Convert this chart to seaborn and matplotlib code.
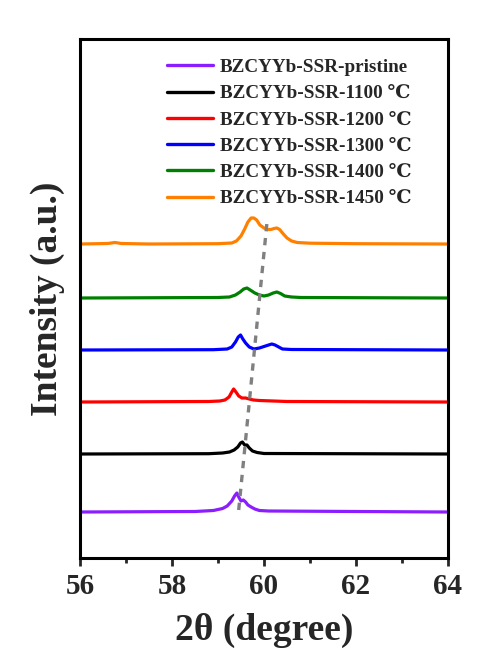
import numpy as np
import pandas as pd
import matplotlib
matplotlib.use("Agg")
import matplotlib.pyplot as plt
import seaborn as sns

# ---- data (intensity above each trace's baseline) ----
labels = ["BZCYYb-SSR-pristine", "BZCYYb-SSR-1100 \u2103", "BZCYYb-SSR-1200 \u2103",
          "BZCYYb-SSR-1300 \u2103", "BZCYYb-SSR-1400 \u2103", "BZCYYb-SSR-1450 \u2103"]
colors = ["#8B1EFF", "#000000", "#FF0000", "#0000FF", "#008000", "#FF8000"]
offsets = [46, 104, 156, 208, 260, 314]

x_pristine = [56, 58.5, 58.9, 59.1, 59.2, 59.3, 59.36, 59.41, 59.45, 59.5, 59.55, 59.6, 59.65, 59.72, 59.8, 59.9, 60.1, 62, 64]
y_pristine = [0, 0.5, 1.5, 3.5, 6, 11, 16, 19, 15, 11, 12, 10, 7, 5, 3, 1.5, 1, 0.5, 0]

x_1100 = [56, 58.8, 59.1, 59.25, 59.35, 59.43, 59.49, 59.53, 59.58, 59.63, 59.68, 59.75, 59.85, 60.0, 64]
y_1100 = [0, 0.3, 1, 2, 4, 7, 11, 12, 9, 9, 6, 3, 1.5, 0.5, 0]

x_1200 = [56, 58.8, 59.04, 59.15, 59.24, 59.3, 59.34, 59.39, 59.45, 59.52, 59.6, 59.68, 59.77, 59.9, 60.2, 60.5, 64]
y_1200 = [0, 0.5, 1, 2, 5, 10, 13, 10, 6, 4, 4, 3, 2, 1.5, 1, 0.5, 0]

x_1300 = [56, 58.9, 59.2, 59.3, 59.38, 59.44, 59.49, 59.54, 59.6, 59.68, 59.78, 59.9, 60.0, 60.1, 60.17, 60.24, 60.32, 60.4, 60.6, 64]
y_1300 = [0, 0.3, 1, 3, 8, 13, 15, 11, 7, 3, 1, 2, 3.5, 5, 6, 5, 3, 1, 0.5, 0]

x_1400 = [56, 59.0, 59.25, 59.38, 59.48, 59.56, 59.63, 59.7, 59.8, 59.9, 60.0, 60.1, 60.2, 60.28, 60.36, 60.45, 60.6, 60.8, 64]
y_1400 = [0, 0.5, 1, 3, 6, 9, 10, 8, 5, 3, 2, 3, 5, 6, 4.5, 2, 1, 0.5, 0]

x_1450 = [56, 56.6, 56.76, 56.9, 57.5, 59.0, 59.3, 59.4, 59.5, 59.58, 59.65, 59.72, 59.78, 59.84, 59.91, 60.0,
          60.08, 60.15, 60.22, 60.28, 60.34, 60.42, 60.5, 60.6, 60.72, 61, 62, 64]
y_1450 = [0, 0.5, 1.5, 0.5, 0, 0.3, 1, 3, 8, 15, 22, 26, 26, 24, 19, 16,
          14.5, 14.5, 15.5, 16, 14.5, 10, 6, 3, 1.5, 0.8, 0.3, 0]

guide_x = [59.45, 60.07]
guide_y = [48, 338]

xticks = [56, 58, 60, 62, 64]

series_x = [x_pristine, x_1100, x_1200, x_1300, x_1400, x_1450]
series_y = [y_pristine, y_1100, y_1200, y_1300, y_1400, y_1450]

rows = []
for lab, xs, ys, off in zip(labels, series_x, series_y, offsets):
    for i, (xv, yv) in enumerate(zip(xs, ys)):
        rows.append({"x": xv, "y": yv + off, "sample": lab, "order": i})
df = pd.DataFrame(rows)

# ---- figure ----
sns.set_theme(style="ticks")
serif = ["Liberation Serif", "DejaVu Serif", "DejaVu Sans"]
plt.rcParams["font.family"] = serif
plt.rcParams["font.weight"] = "bold"

fig = plt.figure(figsize=(4.79, 6.61), dpi=100)
ax = fig.add_axes([80 / 479, 1 - 558 / 661, 368 / 479, 519 / 661])

sns.lineplot(data=df, x="x", y="y", hue="sample", hue_order=labels,
             palette=dict(zip(labels, colors)), sort=False, estimator=None,
             linewidth=2.3, ax=ax)

ax.plot(guide_x, guide_y, color="#808080", linestyle=(0, (2.2, 2.0)), linewidth=2.4, zorder=5)

ax.set_xlim(56, 64)
ax.set_ylim(0, 519)
ax.set_xticks(xticks)
ax.set_xticks([57, 59, 61, 63], minor=True)
ax.set_yticks([])
ax.tick_params(axis="x", which="major", direction="out", length=6, width=2, pad=5,
               labelsize=21)
ax.tick_params(axis="x", which="minor", direction="out", length=3.5, width=2)
for lbl in ax.get_xticklabels():
    lbl.set_fontweight("bold")
for sp in ax.spines.values():
    sp.set_linewidth(2.2)
    sp.set_color("black")

ax.set_xlabel("2\u03b8 (degree)", fontsize=27, fontweight="bold", labelpad=9)
ax.set_ylabel("Intensity (a.u.)", fontsize=27, fontweight="bold", labelpad=11)

handles, _ = ax.get_legend_handles_labels()
leg = ax.legend(handles=handles, labels=labels, loc="upper left",
                bbox_to_anchor=(0.236, 0.962), frameon=False, borderpad=0,
                borderaxespad=0, handlelength=2.4, handletextpad=0.35,
                labelspacing=0.46, prop={"family": serif, "weight": "bold", "size": 13.8})
for h in leg.get_lines():
    h.set_linewidth(2.4)

fig.savefig("out.png", dpi=100, facecolor="white")
